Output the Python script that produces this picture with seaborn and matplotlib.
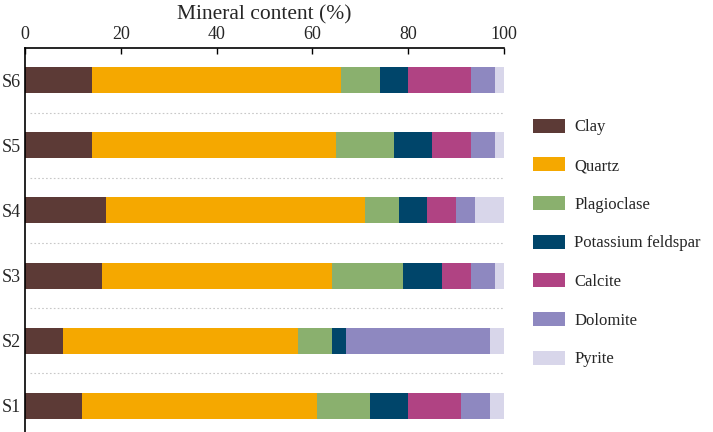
import matplotlib
matplotlib.use("Agg")
import matplotlib.pyplot as plt
from matplotlib.patches import Patch
import numpy as np
import pandas as pd
import seaborn as sns

samples = ["S6", "S5", "S4", "S3", "S2", "S1"]
minerals = ["Clay", "Quartz", "Plagioclase", "Potassium feldspar", "Calcite", "Dolomite", "Pyrite"]
clay = [14, 14, 17, 16, 8, 12]
quartz = [52, 51, 54, 48, 49, 49]
plagioclase = [8, 12, 7, 15, 7, 11]
k_feldspar = [6, 8, 6, 8, 3, 8]
calcite = [13, 8, 6, 6, 0, 11]
dolomite = [5, 5, 4, 5, 30, 6]
pyrite = [2, 2, 6, 2, 3, 3]
colors = ["#5C3A36", "#F5A800", "#8AB06E", "#00456A", "#B04383", "#8E88C0", "#D8D6EA"]

sns.set_style("white")
plt.rcParams["font.family"] = ["Liberation Serif", "DejaVu Serif"]

df = pd.DataFrame(dict(zip(minerals, [clay, quartz, plagioclase, k_feldspar, calcite, dolomite, pyrite])),
                  index=samples)
cum = df.cumsum(axis=1)

fig = plt.figure(figsize=(7.13, 4.32), dpi=100)
ax = fig.add_axes([0.035, 0.0, 0.672, 0.89])

# draw cumulative totals from the largest down so each segment shows
for m, c in reversed(list(zip(minerals, colors))):
    sns.barplot(x=cum[m].values, y=samples, order=samples, color=c, width=0.4,
                saturation=1, linewidth=0, ax=ax)

ax.set_xlim(0, 100)
ax.set_ylim(5.4, -0.5)
ax.xaxis.tick_top()
ax.xaxis.set_label_position("top")
ax.set_xticks([0, 20, 40, 60, 80, 100])
ax.set_xlabel("Mineral content (%)", fontsize=15.5, labelpad=5)
ax.tick_params(axis="x", direction="in", length=4, width=1, labelsize=13, pad=3, color="black")
ax.set_yticks(range(len(samples)))
ax.set_yticklabels(samples)
ax.tick_params(axis="y", length=0, labelsize=13, pad=3)
ax.set_yticks(np.arange(0.5, 5, 1), minor=True)
ax.tick_params(axis="y", which="minor", direction="inout", length=7, width=1.2, color="black")
for yb in np.arange(0.5, 5, 1):
    ax.axhline(yb, xmin=0.01, xmax=1, color="#c8c8c8", linestyle=(0, (1.5, 2)), linewidth=0.8, zorder=0)

for s in ["right", "bottom"]:
    ax.spines[s].set_visible(False)
ax.spines["left"].set_color("black")
ax.spines["left"].set_linewidth(1.2)
ax.spines["top"].set_color("black")
ax.spines["top"].set_linewidth(1.2)

handles = [Patch(facecolor=c, edgecolor="none", label=m) for m, c in zip(minerals, colors)]
fig.legend(handles=handles, loc="upper left", bbox_to_anchor=(0.726, 0.76), frameon=False,
           fontsize=12, handlelength=1.95, handleheight=0.9, handletextpad=0.55, labelspacing=1.32)

fig.savefig("out.png", dpi=100)
